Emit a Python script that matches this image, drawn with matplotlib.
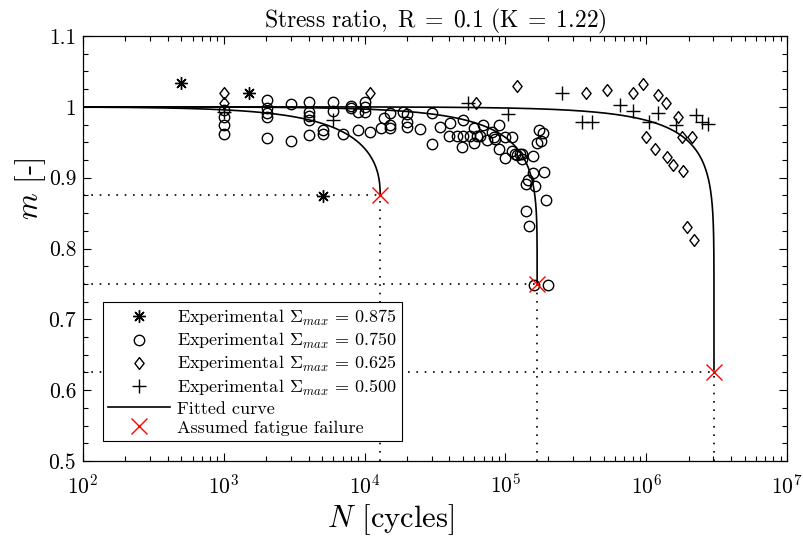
import numpy as np
import matplotlib
matplotlib.use("Agg")
import matplotlib.pyplot as plt
from matplotlib.path import Path
from matplotlib.ticker import LogLocator, MultipleLocator, FuncFormatter, NullFormatter

plt.rcParams.update({
    "font.family": "serif",
    "font.serif": ["cmr10"],
    "mathtext.fontset": "cm",
    "axes.formatter.use_mathtext": True,
    "axes.unicode_minus": False,
})

# Experimental points: cycles N and stiffness ratio m, one group per stress level
N_0875 = [500, 1510, 5050]
m_0875 = [1.034, 1.020, 0.874]

N_0750 = [1000, 1000, 1000, 1000,
          2020, 2020, 2020, 2020, 2020,
          3000, 3000,
          4030, 4030, 4030, 4030, 4030,
          5050, 5050, 6000, 6000, 7060, 7960, 7960,
          9000, 9000, 10000, 10000, 10000, 11000,
          13060, 13800, 15100, 15100, 15100,
          18800, 19900, 19900, 19900, 24700,
          30000, 30000, 34300, 40400, 40000, 45100, 48900,
          50200, 50200, 56100, 60100, 60100, 62400, 66100,
          69700, 73600, 79800, 82700, 84300, 90000, 90000,
          99300, 99300, 110700, 110700,
          117000, 120000, 127000, 132000, 131000,
          156000, 174000, 184000, 167000, 180000,
          158000, 189000, 145000, 140000, 162000,
          194000, 140000, 147000, 159000, 202000]
m_0750 = [0.995, 0.986, 0.974, 0.962,
          1.009, 0.998, 0.992, 0.986, 0.956,
          1.004, 0.952,
          1.007, 0.993, 0.987, 0.981, 0.960,
          0.967, 0.962, 1.007, 0.994, 0.962, 1.001, 0.998,
          0.993, 0.967, 1.007, 1.000, 0.993, 0.965,
          0.970, 0.984, 0.991, 0.974, 0.970,
          0.993, 0.990, 0.978, 0.971, 0.969,
          0.992, 0.948, 0.971, 0.977, 0.959, 0.959, 0.944,
          0.981, 0.959, 0.959, 0.970, 0.949, 0.959, 0.959,
          0.974, 0.953, 0.965, 0.958, 0.955, 0.974, 0.941,
          0.958, 0.928, 0.958, 0.938,
          0.934, 0.932, 0.934, 0.934, 0.926,
          0.930, 0.967, 0.963, 0.949, 0.952,
          0.906, 0.908, 0.897, 0.891, 0.888,
          0.868, 0.853, 0.832, 0.749, 0.749]

N_0625 = [1000, 1000, 10900, 61400, 120000,
          373000, 530000, 802000, 953000, 1210000, 1380000, 1670000,
          998000, 1160000, 1410000, 1560000, 1840000, 1800000, 2100000,
          1940000, 2180000]
m_0625 = [1.019, 1.005, 1.019, 1.006, 1.029,
          1.020, 1.024, 1.020, 1.032, 1.017, 1.005, 0.986,
          0.958, 0.940, 0.929, 0.918, 0.910, 0.958, 0.958,
          0.830, 0.812]

N_0500 = [1000, 6000, 54600, 104000, 251000, 348000, 410000,
          652000, 802000, 1040000, 1210000, 1630000, 2260000, 2480000, 2760000]
m_0500 = [0.993, 0.981, 1.006, 0.990, 1.019, 0.978, 0.978,
          1.003, 0.994, 0.979, 0.991, 0.974, 0.989, 0.979, 0.976]

# Fitted damage curves: stress level, cycles to failure, shape exponent
sigma_max = [0.875, 0.750, 0.625]
N_fail = [1.29e4, 1.68e5, 3.03e6]
shape_q = [0.425, 0.21, 0.13]

# Diamond marker slightly taller than wide
diamond = Path([(0, 1), (0.78, 0), (0, -1), (-0.78, 0), (0, 1)],
               [Path.MOVETO, Path.LINETO, Path.LINETO, Path.LINETO, Path.CLOSEPOLY])

fig = plt.figure(figsize=(8.04, 5.38), dpi=100)
ax = fig.add_axes([83 / 804, 1 - 461 / 538, 704 / 804, 425 / 538])

ms_kw = dict(linestyle="none", color="k", markerfacecolor="none", markeredgewidth=1.0)
ax.plot(N_0875, m_0875, marker=(8, 2, 0), markersize=9, label=r"Experimental $\Sigma_{max}\,=\,0.875$", **ms_kw)
ax.plot(N_0750, m_0750, marker="o", markersize=7.5, label=r"Experimental $\Sigma_{max}\,=\,0.750$", **ms_kw)
ax.plot(N_0625, m_0625, marker=diamond, markersize=8.5, label=r"Experimental $\Sigma_{max}\,=\,0.625$", **ms_kw)
ax.plot(N_0500, m_0500, marker="+", markersize=9.5, label=r"Experimental $\Sigma_{max}\,=\,0.500$", **ms_kw)

for i, (s, nf, q) in enumerate(zip(sigma_max, N_fail, shape_q)):
    n = np.unique(np.concatenate([np.logspace(2, np.log10(nf), 600),
                                  nf * (1 - np.logspace(-9, -0.3, 400))]))
    r = np.clip(n / nf, 0, 1)
    m = 1 - (1 - s) * (1 - (1 - r) ** q)
    ax.plot(n, m, color="k", linewidth=1.2, label="Fitted curve" if i == 0 else None)
    ax.plot([1e2, nf], [s, s], color="k", linewidth=1.2, linestyle=(0, (1, 4.0)))
    ax.plot([nf, nf], [0.5, s], color="k", linewidth=1.2, linestyle=(0, (1, 4.0)))

ax.plot(N_fail, sigma_max, linestyle="none", marker="x", markersize=12,
        markeredgewidth=1.0, color="#ff0000", label="Assumed fatigue failure")

ax.set_xscale("log")
ax.set_xlim(1e2, 1e7)
ax.set_ylim(0.5, 1.1)
ax.xaxis.set_major_locator(LogLocator(base=10, numticks=10))
ax.xaxis.set_minor_locator(LogLocator(base=10, subs=np.arange(2, 10), numticks=20))
ax.xaxis.set_minor_formatter(NullFormatter())
ax.yaxis.set_major_locator(MultipleLocator(0.1))
ax.yaxis.set_minor_locator(MultipleLocator(0.025))
ax.yaxis.set_major_formatter(FuncFormatter(lambda v, p: "%g" % round(v, 3)))

ax.tick_params(which="both", direction="in", top=True, right=True, labelsize=15.5, width=0.8)
ax.tick_params(which="major", length=6)
ax.tick_params(which="minor", length=3.5)
ax.tick_params(axis="x", which="major", pad=9)
ax.tick_params(axis="y", which="major", pad=5)
for sp in ax.spines.values():
    sp.set_linewidth(0.9)

ax.set_xlabel(r"$N$ [cycles]", fontsize=22)
ax.set_ylabel(r"$m$ [-]", fontsize=22)
ax.xaxis.set_label_coords(0.4375, -0.097)
ax.yaxis.set_label_coords(-0.05, 0.64)
ax.set_title(r"$\mathrm{Stress\ ratio,\ R}\;=\;\mathrm{0.1\ (K}\;=\;\mathrm{1.22)}$", fontsize=17, pad=5)

leg = ax.legend(loc="lower left", bbox_to_anchor=(0.028, 0.047), fontsize=13,
                frameon=True, fancybox=False, edgecolor="k", framealpha=1,
                handlelength=3.4, handletextpad=0.4, borderpad=0.3,
                labelspacing=0.18, borderaxespad=0)
leg.get_frame().set_linewidth(0.8)

fig.savefig("out.png", dpi=100)
